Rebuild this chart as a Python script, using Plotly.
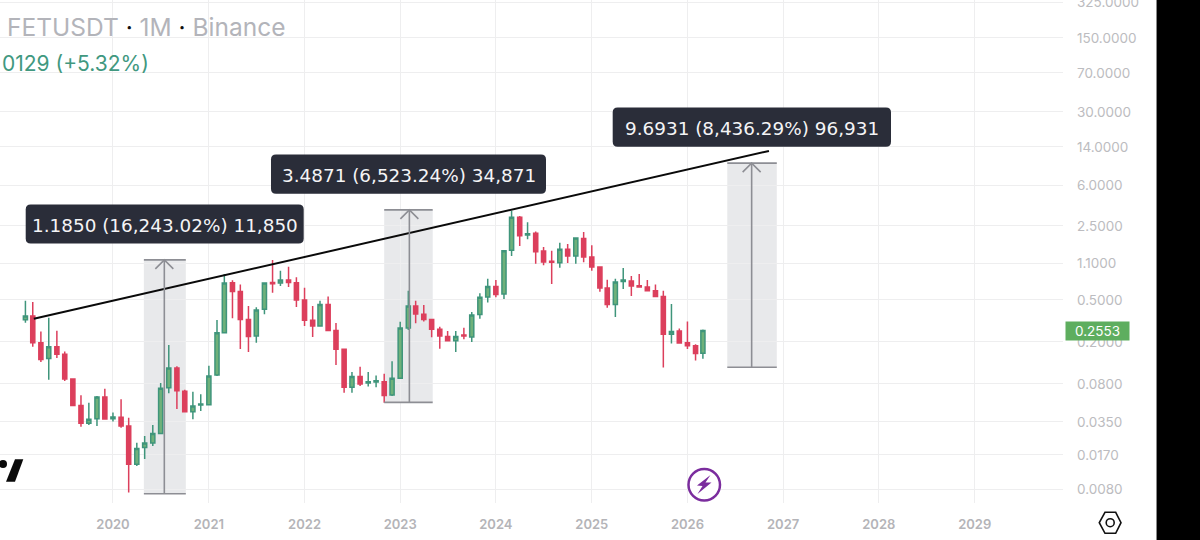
import plotly.graph_objects as go
import pandas as pd

months = pd.date_range("2019-02-01", "2026-03-01", freq="MS")
opens = [.324,.351,.196,.139,.180,.153,.0888,.0500,.0339,.0375,.0601,
 .0375,.0386,.0319,.0139,.0200,.0221,.0272,.0737,.1128,.0680,.0437,.0505,
 .0509,.0969,.244,.723,.600,.325,.227,.406,.73,.72,.769,.723,
 .497,.320,.283,.452,.256,.170,.0742,.094,.0816,.0834,.0838,.0628,
 .0907,.270,.436,.365,.325,.263,.225,.205,.232,.222,.362,.531,
 .669,.566,1.47,3.02,2.055,2.13,1.45,1.157,1.12,1.50,1.30,1.90,
 1.27,1.02,.646,.452,.745,.752,.68,.66,.61,.538,.236,.2534,
 .196,.184,.156]
highs = [.490,.476,.250,.338,.2545,.162,.0895,.0624,.0531,.0614,.0720,
 .0428,.0571,.0383,.0222,.0257,.0326,.0816,.1865,.1175,.0705,.0675,.0638,
 .1188,.322,.877,.763,.698,.437,.425,.723,1.19,.943,1.029,.817,
 .650,.436,.490,.538,.302,.172,.1037,.1161,.1037,.0960,.100,.1313,
 .310,.608,.490,.445,.331,.278,.2534,.2534,.272,.384,.575,.792,
 .769,1.48,3.48,3.10,2.70,2.21,1.58,1.458,1.73,1.686,1.95,2.19,
 1.64,1.035,.775,.792,1.0,.84,.877,.769,.698,.61,.457,.268,
 .312,.19,.261]
lows = [.303,.180,.129,.0876,.141,.0852,.0494,.0315,.0327,.0320,.0370,
 .0353,.0307,.0075,.0134,.0156,.0207,.0272,.0651,.0463,.0434,.0370,.0443,
 .0505,.0950,.244,.334,.171,.160,.196,.364,.583,.675,.660,.427,
 .283,.222,.283,.2545,.121,.0658,.0658,.0766,.0757,.0742,.0531,.0615,
 .0907,.259,.30,.312,.2205,.172,.2035,.160,.2115,.199,.331,.472,
 .528,.508,1.30,1.615,1.87,1.095,1.06,.705,1.006,1.115,1.095,1.13,
 .943,.595,.42,.344,.632,.544,.65,.60,.53,.1143,.193,.192,
 .171,.133,.138]
closes = [.351,.196,.136,.180,.153,.0888,.0500,.0339,.0370,.0601,.0372,
 .0389,.0319,.0139,.0196,.0221,.0272,.0728,.1128,.0689,.0437,.0494,.0516,
 .0950,.244,.720,.600,.325,.225,.400,.720,.71,.769,.73,.497,
 .320,.283,.452,.256,.170,.0742,.094,.0798,.0838,.0858,.0620,.0907,
 .270,.436,.367,.325,.263,.227,.205,.225,.227,.359,.528,.669,
 .562,1.458,3.02,2.015,2.11,1.427,1.14,1.13,1.50,1.30,1.924,1.27,
 1.022,.646,.452,.736,.769,.675,.66,.61,.538,.236,.25,.195,
 .184,.155,.2553]

price_ticks = [325, 150, 70, 30, 14, 6, 2.5, 1.1, 0.5, 0.2, 0.08, 0.035, 0.017, 0.008]
price_labels = ["325.0000","150.0000","70.0000","30.0000","14.0000","6.0000","2.5000",
                "1.1000","0.5000","0.2000","0.0800","0.0350","0.0170","0.0080"]
year_ticks = ["2020-01-01","2021-01-01","2022-01-01","2023-01-01","2024-01-01",
              "2025-01-01","2026-01-01","2027-01-01","2028-01-01","2029-01-01"]
year_labels = ["2020","2021","2022","2023","2024","2025","2026","2027","2028","2029"]

trend_x = ["2019-03-05", "2026-11-08"]
trend_y = [0.33, 12.8]
# projection boxes: start, end, mid date, low, high, caption
proj_start = ["2020-04-28", "2022-11-01", "2026-06-02"]
proj_end = ["2020-10-05", "2023-05-05", "2026-12-08"]
proj_mid = ["2020-07-15", "2023-02-05", "2026-09-03"]
proj_low = [0.0073, 0.0535, 0.1149]
proj_high = [1.1923, 3.54, 9.808]
proj_text = ["1.1850 (16,243.02%) 11,850", "3.4871 (6,523.24%) 34,871", "9.6931 (8,436.29%) 96,931"]
label_boxes = [(25.7, 303.7, 204.5, 243.5), (271, 546, 154.5, 193.7), (612.7, 891, 107.5, 146.7)]
last_price = "0.2553"
title_text = 'FETUSDT <span style="color:#111111">·</span> 1M <span style="color:#111111">·</span> Binance'
change_text = "0129 (+5.32%)"

W, H = 1200, 540
PLOT_W, PLOT_H = 1063, 503
GREEN_LINE, GREEN_FILL, RED = "#3f957b", "#6fb17a", "#dc3f5c"
GRID, GREY = "#eeeeef", "#8d8e94"
FONT = "Inter, Roboto, sans-serif"

def px(x):
    return x / W
def py(y):
    return 1 - y / H

def poly(points, **kw):
    path = "M" + " L".join(f"{px(a):.5f},{py(b):.5f}" for a, b in points) + " Z"
    return dict(type="path", path=path, xref="paper", yref="paper", layer="above", **kw)

def round_rect(x0, x1, y0, y1, r=5):
    a, b, c, d = px(x0), px(x1), py(y0), py(y1)
    rx, ry = r / W, r / H
    return (f"M{a+rx:.5f},{c:.5f} L{b-rx:.5f},{c:.5f} Q{b:.5f},{c:.5f} {b:.5f},{c-ry:.5f} "
            f"L{b:.5f},{d+ry:.5f} Q{b:.5f},{d:.5f} {b-rx:.5f},{d:.5f} L{a+rx:.5f},{d:.5f} "
            f"Q{a:.5f},{d:.5f} {a:.5f},{d+ry:.5f} L{a:.5f},{c-ry:.5f} Q{a:.5f},{c:.5f} {a+rx:.5f},{c:.5f} Z")

fig = go.Figure()
fig.add_trace(go.Candlestick(
    x=months, open=opens, high=highs, low=lows, close=closes,
    increasing=dict(line=dict(color=GREEN_LINE, width=1.5), fillcolor=GREEN_FILL),
    decreasing=dict(line=dict(color=RED, width=1.5), fillcolor=RED),
    whiskerwidth=0, hoverinfo="skip", showlegend=False))
fig.add_trace(go.Scatter(x=trend_x, y=trend_y, mode="lines",
                         line=dict(color="#0a0a0a", width=2), hoverinfo="skip", showlegend=False))

shapes, annotations = [], []
for s, e, m, lo, hi in zip(proj_start, proj_end, proj_mid, proj_low, proj_high):
    shapes.append(dict(type="rect", xref="x", yref="y", x0=s, x1=e, y0=lo, y1=hi, layer="below",
                       line_width=0, fillcolor="rgba(120,123,134,0.17)"))
    for v in (lo, hi):
        shapes.append(dict(type="line", xref="x", yref="y", x0=s, x1=e, y0=v, y1=v, layer="above",
                           line=dict(color=GREY, width=1.6)))
    shapes.append(dict(type="line", xref="x", yref="y", x0=m, x1=m, y0=lo, y1=hi, layer="above",
                       line=dict(color=GREY, width=1.6)))
    shapes.append(dict(type="path", xref="x", yref="y", xsizemode="pixel", ysizemode="pixel",
                       xanchor=m, yanchor=hi, path="M-9,-9 L0,0 L9,-9", layer="above",
                       line=dict(color=GREY, width=1.6)))

for (x0, x1, y0, y1), txt in zip(label_boxes, proj_text):
    shapes.append(dict(type="path", xref="paper", yref="paper", layer="above",
                       path=round_rect(x0, x1, y0, y1), fillcolor="#2a2d39", line_width=0))
    annotations.append(dict(text=txt, xref="paper", yref="paper", x=px((x0 + x1) / 2), y=py((y0 + y1) / 2 + 1.5),
                            xanchor="center", yanchor="middle", showarrow=False,
                            font=dict(family="DejaVu Sans, Inter, sans-serif", size=18.4, color="#f4f4f6")))

annotations += [
    dict(text=title_text, xref="paper", yref="paper", x=px(5), y=py(27), xanchor="left", yanchor="middle",
         showarrow=False, font=dict(family=FONT, size=24.5, color="#b3b4ba")),
    dict(text=change_text, xref="paper", yref="paper", x=px(0), y=py(64), xanchor="left", yanchor="middle",
         showarrow=False, font=dict(family=FONT, size=21, color="#41987f")),
    dict(text=last_price, xref="paper", yref="paper", x=px(1065), y=py(331), xanchor="left", yanchor="middle",
         showarrow=False, width=63, height=18, align="center", valign="middle", bgcolor="#5eae5f", borderpad=0,
         font=dict(family=FONT, size=13.5, color="#ffffff")),
]

shapes += [
    dict(type="rect", xref="paper", yref="paper", x0=px(1157), x1=1, y0=0, y1=1, layer="above",
         fillcolor="#000000", line_width=0),
    dict(type="line", xref="paper", yref="paper", x0=px(1156.5), x1=px(1156.5), y0=0, y1=1, layer="above",
         line=dict(color="#8a8a8a", width=1)),
    poly([(15, 459.3), (23.3, 459.3), (15, 481.7), (6, 481.7)], fillcolor="#0a0a0a", line_width=0),
    dict(type="circle", xref="paper", yref="paper", x0=px(-1), x1=px(7), y0=py(468), y1=py(460), layer="above",
         fillcolor="#0a0a0a", line_width=0),
    dict(type="circle", xref="paper", yref="paper", x0=px(688.5), x1=px(720), y0=py(500.5), y1=py(469), layer="above",
         fillcolor="#ffffff", line=dict(color="#7b2d9e", width=2.5)),
    poly([(710.5, 475), (697, 485.5), (702.5, 486), (697.5, 494), (711.5, 482.5), (705.5, 482.5)],
         fillcolor="#7b2d9e", line_width=0),
    poly([(1099.3, 522.7), (1105, 512.3), (1115.7, 512.3), (1121, 522.7), (1115.7, 533.3), (1105, 533.3)],
         fillcolor="rgba(0,0,0,0)", line=dict(color="#111111", width=1.6)),
    dict(type="circle", xref="paper", yref="paper", x0=px(1106.2), x1=px(1114.2), y0=py(526.7), y1=py(518.7),
         layer="above", fillcolor="rgba(0,0,0,0)", line=dict(color="#111111", width=1.6)),
]

fig.update_layout(
    width=W, height=H, autosize=False, margin=dict(l=0, r=0, t=0, b=0),
    paper_bgcolor="#ffffff", plot_bgcolor="#ffffff", showlegend=False, boxgap=0.2,
    font=dict(family=FONT), shapes=shapes, annotations=annotations,
    xaxis=dict(type="date", domain=[0, PLOT_W / W], range=["2018-10-27", "2029-12-04"],
               tickmode="array", tickvals=year_ticks, ticktext=year_labels, automargin=False,
               tickfont=dict(family=FONT, size=13, color="#b4b4b8", weight=600),
               ticks="", ticklabelstandoff=12, showgrid=True, gridcolor=GRID, gridwidth=1,
               showline=False, zeroline=False, rangeslider=dict(visible=False), fixedrange=True),
    yaxis=dict(type="log", side="right", domain=[1 - PLOT_H / H, 1], range=[2.535 - PLOT_H / 105.7, 2.535],
               tickmode="array", tickvals=price_ticks, ticktext=price_labels, automargin=False,
               tickfont=dict(family=FONT, size=13.5, color="#bcbcc0"), ticklabeloverflow="allow",
               ticks="", ticklabelstandoff=13, showgrid=True, gridcolor=GRID, gridwidth=1,
               showline=False, zeroline=False, fixedrange=True),
)

fig.write_html("out.html", config=dict(displayModeBar=False),
               post_script="document.body.style.margin='0';document.documentElement.style.overflow='hidden';")
